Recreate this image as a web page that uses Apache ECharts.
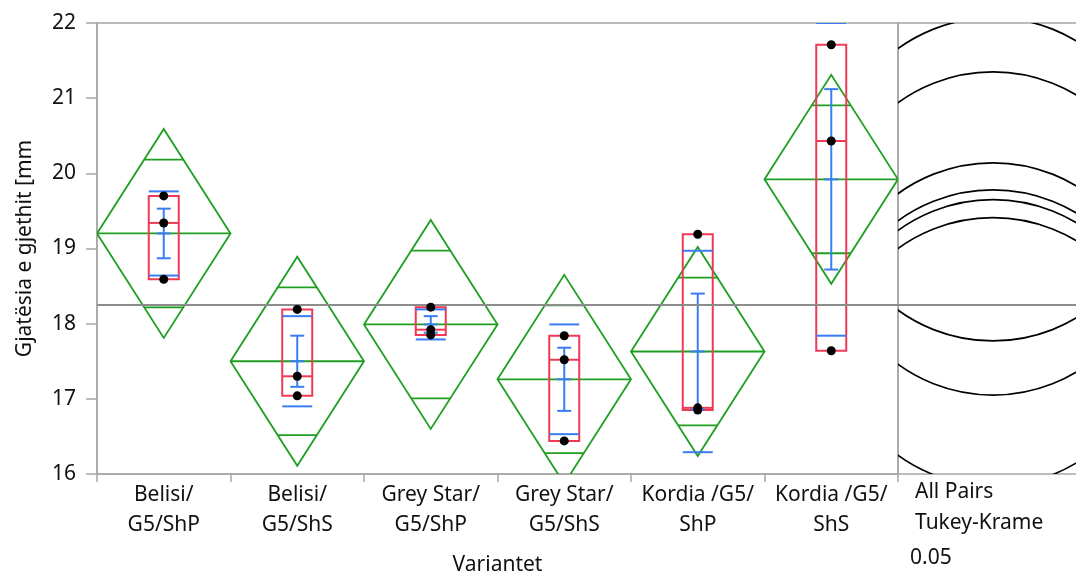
<!DOCTYPE html>
<html>
<head>
<meta charset="utf-8">
<script src="https://cdn.jsdelivr.net/npm/echarts@6/dist/echarts.min.js"></script>
<style>
  html, body { margin: 0; padding: 0; background: #fff; }
  #chart { width: 1076px; height: 573px; }
</style>
</head>
<body>
<div id="chart"></div>
<script>
// Oneway analysis of leaf length by variant
const categories = [
  'Belisi/\nG5/ShP', 'Belisi/\nG5/ShS', 'Grey Star/\nG5/ShP',
  'Grey Star/\nG5/ShS', 'Kordia /G5/\nShP', 'Kordia /G5/\nShS'
];
// individual observations per variant
const obs1 = [19.70, 19.34, 18.59];
const obs2 = [18.19, 17.30, 17.04];
const obs3 = [18.22, 17.92, 17.85];
const obs4 = [17.84, 17.52, 16.44];
const obs5 = [19.19, 16.88, 16.85];
const obs6 = [21.71, 20.43, 17.64];
const observations = [obs1, obs2, obs3, obs4, obs5, obs6];

// group means and 95% confidence half-width of the means diamonds
const groupMeans = [19.20, 17.50, 17.99, 17.26, 17.63, 19.92];
const ciHalf = 1.39;
// quartiles (q1, median, q3) for the box plots
const boxQ1 = [18.59, 17.04, 17.85, 16.44, 16.85, 17.64];
const boxMedian = [19.34, 17.30, 17.92, 17.52, 16.88, 20.43];
const boxQ3 = [19.70, 18.19, 18.22, 17.84, 19.19, 21.71];
// standard deviation and standard error per group
const groupSD = [0.56, 0.60, 0.20, 0.73, 1.34, 2.08];
const groupSE = [0.33, 0.34, 0.11, 0.42, 0.77, 1.20];
// overall mean and Tukey-Kramer comparison circle radius
const grandMean = 18.25;
const circleRadius = 2.15;
const yTicks = [16, 17, 18, 19, 20, 21, 22];

const GREEN = '#1f9e22';
const RED = '#f03a55';
const BLUE = '#3a7cf2';
const FRAME = '#a6a6a6';
const FONT = 'Noto Sans';
const FS = 21;
const TXT = '#111';

const chart = echarts.init(document.getElementById('chart'));

const diamondData = groupMeans.map((m, i) => [i, m, ciHalf]);
const boxData = boxQ1.map((q, i) => [i, q, boxMedian[i], boxQ3[i]]);
const barData = groupMeans.map((m, i) => [i, m, groupSD[i], groupSE[i]]);
const pointData = [];
observations.forEach((arr, i) => arr.forEach(v => pointData.push([i, v])));
const circleData = groupMeans.map(m => [95, m]);

function hline(x1, x2, y, color, w) {
  return { type: 'line', shape: { x1: x1, y1: y, x2: x2, y2: y },
           style: { stroke: color, lineWidth: w } };
}

chart.setOption({
  animation: false,
  textStyle: { fontFamily: FONT },
  grid: [
    { left: 97, top: 23, width: 801, height: 451, show: true, containLabel: false,
      outerBoundsMode: 'none',
      borderColor: FRAME, borderWidth: 1.5, backgroundColor: 'transparent' },
    { left: 898, top: 23, width: 192, height: 451, show: true, containLabel: false,
      outerBoundsMode: 'none',
      borderColor: FRAME, borderWidth: 1.5, backgroundColor: 'transparent' }
  ],
  xAxis: [
    {
      gridIndex: 0, type: 'category', data: categories, boundaryGap: true,
      axisLine: { lineStyle: { color: FRAME, width: 1.5 } },
      axisTick: { show: true, length: 8, interval: 0, lineStyle: { color: FRAME, width: 1.5 } },
      axisLabel: { interval: 0, fontSize: FS, lineHeight: 30, color: TXT, margin: 6, fontFamily: FONT },
      name: 'Variantet', nameLocation: 'middle', nameGap: 81,
      nameTextStyle: { fontSize: FS, color: TXT, fontFamily: FONT }
    },
    { gridIndex: 1, type: 'value', min: 0, max: 192, show: false }
  ],
  yAxis: [
    {
      gridIndex: 0, type: 'value', min: yTicks[0], max: yTicks[yTicks.length - 1], interval: 1,
      splitLine: { show: false },
      axisLine: { show: true, lineStyle: { color: FRAME, width: 1.5 } },
      axisTick: { show: true, length: 11, lineStyle: { color: FRAME, width: 1.5 } },
      axisLabel: { fontSize: FS, color: TXT, margin: 21, fontFamily: FONT },
      name: 'Gjatësia e gjethit [mm', nameLocation: 'middle', nameGap: 61,
      nameTextStyle: { fontSize: FS, color: TXT, fontFamily: FONT }
    },
    { gridIndex: 1, type: 'value', min: 16, max: 22, show: false }
  ],
  series: [
    {
      // means diamonds with overlap marks
      type: 'custom', xAxisIndex: 0, yAxisIndex: 0, clip: true, z: 2,
      data: diamondData,
      renderItem: function (params, api) {
        const x = api.value(0), m = api.value(1), h = api.value(2);
        const c = api.coord([x, m]);
        const top = api.coord([x, m + h])[1];
        const bot = api.coord([x, m - h])[1];
        const half = api.size([1, 0])[0] / 2;
        const oh = h / Math.SQRT2;
        const oTop = api.coord([x, m + oh])[1];
        const oBot = api.coord([x, m - oh])[1];
        const ow = half * (1 - 1 / Math.SQRT2);
        return {
          type: 'group',
          children: [
            { type: 'polygon',
              shape: { points: [[c[0] - half, c[1]], [c[0], top], [c[0] + half, c[1]], [c[0], bot]] },
              style: { fill: 'none', stroke: GREEN, lineWidth: 1.8 } },
            hline(c[0] - half, c[0] + half, c[1], GREEN, 1.8),
            hline(c[0] - ow, c[0] + ow, oTop, GREEN, 1.8),
            hline(c[0] - ow, c[0] + ow, oBot, GREEN, 1.8)
          ]
        };
      }
    },
    {
      // box plots
      type: 'custom', xAxisIndex: 0, yAxisIndex: 0, clip: true, z: 3,
      data: boxData,
      renderItem: function (params, api) {
        const x = api.value(0);
        const cx = api.coord([x, 0])[0];
        const y1 = api.coord([x, api.value(1)])[1];
        const ym = api.coord([x, api.value(2)])[1];
        const y3 = api.coord([x, api.value(3)])[1];
        const w = 30;
        return {
          type: 'group',
          children: [
            { type: 'rect', shape: { x: cx - w / 2, y: y3, width: w, height: y1 - y3 },
              style: { fill: 'none', stroke: RED, lineWidth: 2 } },
            hline(cx - w / 2, cx + w / 2, ym, RED, 2)
          ]
        };
      }
    },
    {
      // standard deviation lines and mean error bars
      type: 'custom', xAxisIndex: 0, yAxisIndex: 0, clip: true, z: 4,
      data: barData,
      renderItem: function (params, api) {
        const x = api.value(0), m = api.value(1), sd = api.value(2), se = api.value(3);
        const cx = api.coord([x, m])[0];
        const ym = api.coord([x, m])[1];
        const sdT = api.coord([x, m + sd])[1];
        const sdB = api.coord([x, m - sd])[1];
        const seT = api.coord([x, m + se])[1];
        const seB = api.coord([x, m - se])[1];
        const sw = 30, cw = 14;
        return {
          type: 'group',
          children: [
            hline(cx - sw / 2, cx + sw / 2, sdT, BLUE, 2),
            hline(cx - sw / 2, cx + sw / 2, sdB, BLUE, 2),
            { type: 'line', shape: { x1: cx, y1: seT, x2: cx, y2: seB },
              style: { stroke: BLUE, lineWidth: 2 } },
            hline(cx - cw / 2, cx + cw / 2, seT, BLUE, 2),
            hline(cx - cw / 2, cx + cw / 2, seB, BLUE, 2),
            hline(cx - cw / 2, cx + cw / 2, ym, BLUE, 2)
          ]
        };
      }
    },
    {
      // observations
      type: 'scatter', xAxisIndex: 0, yAxisIndex: 0, z: 5,
      symbol: 'circle', symbolSize: 9,
      itemStyle: { color: '#000', opacity: 1 },
      data: pointData,
      markLine: {
        silent: true, symbol: 'none', label: { show: false },
        lineStyle: { color: '#8c8c8c', width: 1.8, type: 'solid' },
        data: [{ yAxis: grandMean }]
      }
    },
    {
      // comparison circles
      type: 'custom', xAxisIndex: 1, yAxisIndex: 1, clip: true, z: 2,
      data: circleData,
      renderItem: function (params, api) {
        const c = api.coord([api.value(0), api.value(1)]);
        const r = api.size([0, circleRadius])[1];
        return { type: 'circle', shape: { cx: c[0], cy: c[1], r: r },
                 style: { fill: 'none', stroke: '#000', lineWidth: 1.7 } };
      },
      markLine: {
        silent: true, symbol: 'none', label: { show: false },
        lineStyle: { color: '#8c8c8c', width: 1.8, type: 'solid' },
        data: [{ yAxis: grandMean }]
      }
    }
  ],
  graphic: [
    { type: 'text', left: 915, top: 482, style: { text: 'All Pairs', fontSize: FS, fill: TXT, fontFamily: FONT } },
    { type: 'text', left: 915, top: 513, style: { text: 'Tukey-Krame', fontSize: FS, fill: TXT, fontFamily: FONT } },
    { type: 'text', left: 910, top: 548, style: { text: '0.05', fontSize: FS, fill: TXT, fontFamily: FONT } }
  ]
});
</script>
</body>
</html>
